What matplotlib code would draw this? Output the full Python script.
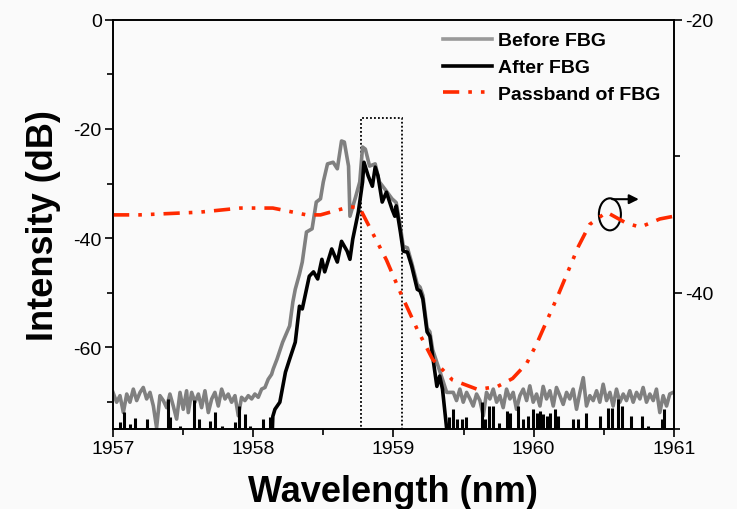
import matplotlib.pyplot as plt
from matplotlib.lines import Line2D
from matplotlib.patches import Ellipse, Rectangle
from matplotlib.ticker import MultipleLocator, FixedLocator

plt.rcParams["font.family"] = ["Liberation Sans", "DejaVu Sans"]
plt.rcParams["axes.unicode_minus"] = False

# spectrum before the FBG (left axis, dB)
before_wl = [
    1957.000, 1957.026, 1957.050, 1957.074, 1957.098, 1957.121, 1957.145, 1957.169,
    1957.193, 1957.216, 1957.240, 1957.264, 1957.288, 1957.311, 1957.335, 1957.359,
    1957.383, 1957.406, 1957.430, 1957.454, 1957.478, 1957.501, 1957.525, 1957.537,
    1957.561, 1957.585, 1957.609, 1957.632, 1957.656, 1957.680, 1957.704, 1957.727,
    1957.751, 1957.775, 1957.799, 1957.822, 1957.846, 1957.870, 1957.894, 1957.917,
    1957.941, 1957.965, 1957.989, 1958.012, 1958.036, 1958.060, 1958.084, 1958.107,
    1958.131, 1958.143, 1958.170, 1958.210, 1958.260, 1958.283, 1958.300, 1958.330,
    1958.350, 1958.380, 1958.420, 1958.450, 1958.480, 1958.500, 1958.530, 1958.570,
    1958.600, 1958.630, 1958.650, 1958.680, 1958.690, 1958.730, 1958.760, 1958.780,
    1958.800, 1958.830, 1958.870, 1958.900, 1958.950, 1958.990, 1959.020, 1959.050,
    1959.070, 1959.100, 1959.130, 1959.170, 1959.190, 1959.210, 1959.240, 1959.260,
    1959.280, 1959.310, 1959.350, 1959.380, 1959.427, 1959.450, 1959.474, 1959.498,
    1959.522, 1959.546, 1959.569, 1959.593, 1959.617, 1959.641, 1959.664, 1959.688,
    1959.712, 1959.736, 1959.759, 1959.783, 1959.807, 1959.831, 1959.854, 1959.878,
    1959.902, 1959.926, 1959.950, 1959.973, 1959.997, 1960.021, 1960.045, 1960.068,
    1960.092, 1960.116, 1960.140, 1960.163, 1960.187, 1960.211, 1960.235, 1960.258,
    1960.282, 1960.306, 1960.330, 1960.354, 1960.377, 1960.401, 1960.425, 1960.449,
    1960.472, 1960.496, 1960.520, 1960.544, 1960.567, 1960.591, 1960.615, 1960.639,
    1960.662, 1960.686, 1960.710, 1960.734, 1960.758, 1960.781, 1960.805, 1960.829,
    1960.853, 1960.876, 1960.900, 1960.924, 1960.948, 1960.971, 1960.995,
]
before_db = [
    -68.3, -70.1, -68.9, -72.0, -68.6, -70.1, -67.7, -69.8,
    -68.3, -67.4, -69.5, -68.3, -70.8, -74.8, -68.9, -69.8,
    -71.1, -68.6, -70.8, -73.2, -68.3, -71.4, -68.0, -72.0,
    -68.3, -70.1, -68.6, -71.1, -68.0, -72.0, -69.5, -68.3,
    -70.8, -67.7, -69.5, -68.6, -70.1, -68.9, -72.6, -69.2,
    -69.8, -68.9, -69.5, -68.6, -69.2, -67.7, -67.4, -65.9,
    -65.0, -64.0, -62.2, -59.1, -56.1, -51.7, -49.4, -46.6,
    -44.4, -38.9, -38.3, -33.4, -32.8, -29.7, -26.4, -26.1,
    -27.3, -22.2, -22.4, -26.8, -36.0, -32.5, -29.7, -23.3,
    -23.7, -26.8, -26.4, -29.7, -31.4, -32.8, -33.5, -38.0,
    -41.5, -41.8, -44.5, -48.5, -49.0, -50.5, -56.5, -57.2,
    -60.5, -62.8, -65.9, -68.3, -68.3, -69.8, -67.7, -70.1,
    -68.3, -69.5, -70.8, -68.6, -69.8, -72.6, -68.3, -69.5,
    -67.7, -70.1, -68.9, -71.1, -67.7, -69.5, -68.3, -71.4,
    -68.9, -67.7, -69.8, -67.1, -70.1, -68.6, -70.8, -67.2,
    -69.5, -68.0, -70.8, -67.4, -68.9, -70.5, -68.3, -69.5,
    -67.7, -71.4, -68.3, -65.6, -70.8, -68.9, -69.8, -68.0,
    -70.1, -66.8, -69.8, -68.3, -70.8, -67.7, -70.1, -68.6,
    -69.8, -68.0, -70.1, -68.3, -69.5, -67.4, -70.1, -68.6,
    -69.8, -67.7, -72.0, -68.9, -70.8, -68.6, -68.3,
]

# spectrum after the FBG, main lobe (left axis, dB)
after_wl = [
    1958.130, 1958.140, 1958.155, 1958.190, 1958.230, 1958.260, 1958.300, 1958.330,
    1958.350, 1958.380, 1958.400, 1958.430, 1958.460, 1958.490, 1958.510, 1958.560,
    1958.600, 1958.630, 1958.670, 1958.690, 1958.710, 1958.750, 1958.780, 1958.790,
    1958.820, 1958.850, 1958.870, 1958.890, 1958.920, 1958.950, 1958.990, 1959.010,
    1959.020, 1959.050, 1959.070, 1959.100, 1959.130, 1959.170, 1959.190, 1959.210,
    1959.240, 1959.260, 1959.280, 1959.310, 1959.330, 1959.350, 1959.380, 1959.390,
]
after_db = [
    -80.0, -72.7, -71.4, -70.1, -64.6, -62.2, -59.1, -52.5,
    -53.0, -49.4, -47.0, -46.2, -47.5, -43.9, -46.2, -42.0,
    -44.4, -40.6, -42.4, -43.9, -40.2, -35.2, -29.7, -26.1,
    -28.6, -30.5, -27.0, -28.6, -33.4, -31.6, -34.7, -36.0,
    -34.1, -38.9, -42.4, -42.6, -45.1, -49.4, -49.7, -51.2,
    -57.2, -58.0, -61.7, -67.2, -65.3, -67.7, -75.0, -80.0,
]

# noise spikes of the after-FBG trace poking above the axis floor
spike_wl = [
    1957.05, 1957.08, 1957.12, 1957.16, 1957.24, 1957.39, 1957.41, 1957.48,
    1957.58, 1957.61, 1957.69, 1957.73, 1957.78, 1957.87, 1957.90, 1957.94,
    1957.98, 1958.07, 1958.12,
    1959.398, 1959.427, 1959.455, 1959.486, 1959.517, 1959.629, 1959.652, 1959.683,
    1959.712, 1959.750, 1959.807, 1959.831, 1959.890, 1959.926, 1959.961, 1959.997,
    1960.021, 1960.045, 1960.068, 1960.092, 1960.116, 1960.151, 1960.175, 1960.282,
    1960.318, 1960.377, 1960.472, 1960.532, 1960.556, 1960.603, 1960.627, 1960.698,
    1960.770, 1960.817, 1960.912, 1960.929,
]
spike_db = [
    -73.8, -71.9, -74.1, -73.0, -73.2, -69.5, -72.8, -74.5,
    -69.7, -73.2, -73.6, -71.9, -74.5, -73.8, -70.8, -72.3,
    -74.5, -73.2, -72.8,
    -72.9, -71.4, -73.2, -73.2, -72.9, -70.1, -73.2, -70.8,
    -70.8, -73.9, -71.7, -72.0, -70.8, -73.2, -72.6, -71.4,
    -72.0, -71.7, -72.3, -72.6, -72.0, -71.4, -72.6, -73.2,
    -73.2, -72.0, -72.6, -71.1, -71.1, -69.5, -70.8, -72.6,
    -72.6, -74.5, -73.2, -71.4,
]

# FBG passband (right axis, dB)
pass_wl = [
    1957.00, 1957.19, 1957.62, 1957.91, 1958.14, 1958.38, 1958.48, 1958.69,
    1958.76, 1958.85, 1958.95, 1959.05, 1959.17, 1959.28, 1959.42, 1959.60,
    1959.74, 1959.85, 1959.95, 1960.02, 1960.17, 1960.32, 1960.40, 1960.52,
    1960.66, 1960.76, 1960.90, 1961.00,
]
pass_db = [
    -34.3, -34.3, -34.1, -33.8, -33.8, -34.3, -34.3, -33.7,
    -33.8, -35.6, -37.6, -40.0, -42.7, -44.9, -46.4, -47.1,
    -46.9, -46.3, -45.2, -43.8, -40.3, -36.6, -35.0, -34.1,
    -34.9, -35.2, -34.6, -34.4,
]

box_wl = (1958.77, 1959.06)
box_top = -18.0

GRAY = "#808080"
RED = "#ff2a00"
BG = "#fafafa"


def main():
    fig = plt.figure(figsize=(7.37, 5.10), dpi=100, facecolor=BG)
    ax = fig.add_axes([0.1533, 0.157, 0.761, 0.802], facecolor=BG)
    ax2 = ax.twinx()

    ax.plot(before_wl, before_db, color=GRAY, lw=2.6, solid_joinstyle="round")
    ax.plot(after_wl, after_db, color="black", lw=2.6, solid_joinstyle="round")
    ax.vlines(spike_wl, -80, spike_db, color="black", lw=2.2)
    ax.add_patch(Rectangle((box_wl[0], -80), box_wl[1] - box_wl[0], box_top + 80,
                           fill=False, ec="black", lw=1.3, ls=(0, (1, 1.2))))

    dash = (0, (4.5, 2.5, 1, 2.5, 1, 2.5))
    ax2.plot(pass_wl, pass_db, color=RED, lw=2.6, ls=dash)
    ax2.add_patch(Ellipse((1960.544, -34.26), 0.157, 2.35, fill=False, ec="black", lw=1.5))
    ax2.annotate("", xy=(1960.77, -33.15), xytext=(1960.54, -33.15),
                 arrowprops=dict(arrowstyle="-|>", color="black", lw=1.5, mutation_scale=14))

    ax.set_xlim(1957, 1961)
    ax.set_ylim(-75, 0)
    ax2.set_ylim(-50, -20)

    ax.xaxis.set_major_locator(MultipleLocator(1))
    ax.xaxis.set_minor_locator(MultipleLocator(0.5))
    ax.yaxis.set_major_locator(MultipleLocator(20))
    ax.yaxis.set_minor_locator(FixedLocator([-70, -50, -30, -10]))
    ax2.yaxis.set_major_locator(FixedLocator([-40, -20]))
    ax2.yaxis.set_minor_locator(FixedLocator([-50, -30]))

    for a in (ax, ax2):
        for s in a.spines.values():
            s.set_linewidth(1.2)
        a.tick_params(which="major", direction="out", length=6, width=1.2,
                      labelsize=14, pad=2)
        a.tick_params(which="minor", direction="out", length=4, width=1.2)
    ax.tick_params(top=False, right=False, which="both")

    ax.set_xlabel("Wavelength (nm)", fontsize=26, fontweight="bold", labelpad=12)
    ax.set_ylabel("Intensity (dB)", fontsize=26, fontweight="bold", labelpad=9)

    handles = [
        Line2D([], [], color="#999999", lw=2.6),
        Line2D([], [], color="black", lw=2.6),
        Line2D([], [], color=RED, lw=2.6, ls=dash),
    ]
    ax2.legend(handles, ["Before FBG", "After FBG", "Passband of FBG"],
               loc="upper left", bbox_to_anchor=(0.575, 0.99), frameon=False,
               prop={"size": 14, "weight": "bold"}, handlelength=2.5,
               handletextpad=0.3, labelspacing=0.48, borderaxespad=0)

    fig.savefig("out.png", dpi=100, facecolor=BG)
    plt.close(fig)


if __name__ == "__main__":
    main()
